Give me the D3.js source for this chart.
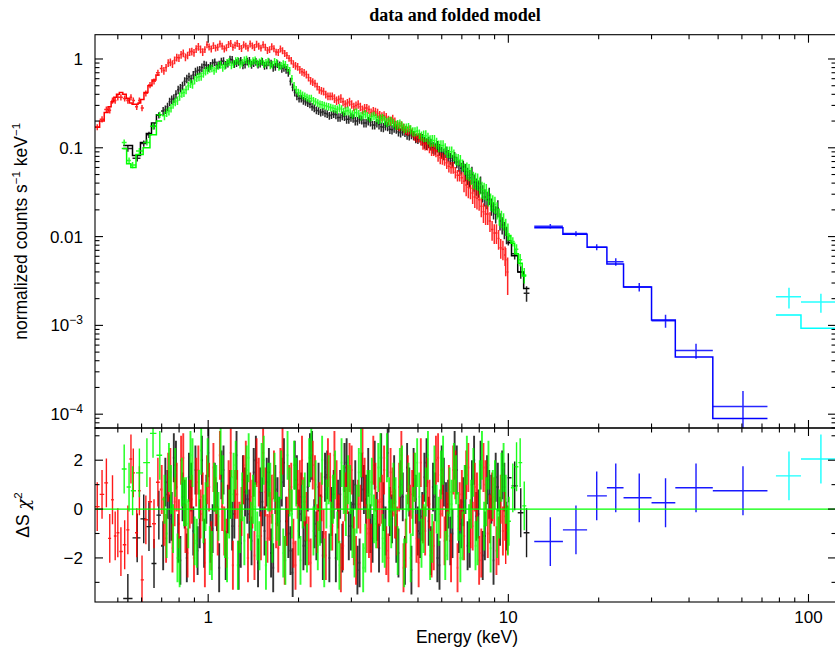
<!DOCTYPE html>
<html><head><meta charset="utf-8">
<script src="https://cdn.jsdelivr.net/npm/d3@7"></script>
<style>body{margin:0;background:#fff}svg{display:block}</style>
</head><body>
<svg id="c" width="835" height="651"></svg>
<script>
// ---------------- DATA ----------------
// Red (low-energy sparse part)
const redLowE=[0.427,0.443,0.458,0.470,0.480,0.490,0.500,0.512,0.527,0.540,0.553,0.563,0.578,0.590,0.602,0.620,0.640,0.660,0.680];
const redLowV=[0.171,0.21,0.27,0.265,0.34,0.34,0.37,0.37,0.36,0.34,0.37,0.34,0.29,0.34,0.28,0.41,0.51,0.56,0.70];
const redLowM=[0.17,0.20,0.25,0.29,0.33,0.37,0.40,0.42,0.40,0.36,0.32,0.31,0.31,0.32,0.35,0.42,0.50,0.58,0.66];
const redLowR=[0.1,0.6,1.07,-1.2,0.38,-1.1,-0.97,-1.74,-1.46,-0.85,2.05,1.48,-0.97,0.75,-2.9,-0.44,0.3,-0.6,1.1];
const redLowErr=0.08;
// Red (dense part): channel centres, values, residuals; second channel in each bin (V2/R2)
const redE=[0.700,0.724,0.748,0.773,0.799,0.826,0.854,0.882,0.912,0.943,
0.975,1.007,1.041,1.076,1.113,1.150,1.189,1.229,1.270,1.313,
1.357,1.403,1.450,1.499,1.550,1.602,1.656,1.712,1.769,1.829,
1.891,1.954,2.020,2.088,2.159,2.231,2.307,2.384,2.465,2.548,
2.634,2.722,2.814,2.909,3.007,3.108,3.213,3.321,3.433,3.549,
3.668,3.792,3.920,4.052,4.188,4.329,4.475,4.626,4.782,4.943,
5.110,5.282,5.460,5.644,5.834,6.031,6.234,6.444,6.661,6.886,
7.118,7.358,7.606,7.862,8.127,8.401,8.684,8.977,9.280,9.593];
const redV=[0.78,0.80,0.92,0.97,1.03,1.16,1.10,1.22,1.30,1.29,
1.28,1.37,1.42,1.36,1.40,1.34,1.50,1.43,1.39,1.45,
1.33,1.41,1.47,1.33,1.36,1.28,1.31,1.19,1.24,1.10,
0.96,0.84,0.76,0.70,0.62,0.55,0.49,0.44,0.40,0.38,
0.36,0.35,0.33,0.32,0.31,0.30,0.29,0.28,0.27,0.26,
0.245,0.225,0.22,0.20,0.196,0.175,0.168,0.155,0.148,0.13,
0.125,0.11,0.102,0.095,0.082,0.076,0.068,0.060,0.053,0.049,
0.042,0.036,0.031,0.027,0.022,0.018,0.015,0.011,0.0095,0.0072];
const redR=[0.8,-1.2,1.5,0.3,-0.6,2.1,-1.8,0.4,1.1,-0.2,
-2.2,0.9,1.7,-0.9,0.1,-1.4,2.3,0.6,-0.7,1.2,
-2.0,0.2,1.9,-1.1,0.7,-0.3,1.4,-1.6,2.4,-0.5,
0.9,-2.3,1.0,0.3,-1.3,1.8,-0.8,0.5,-1.9,1.3,
2.2,-0.4,-1.5,0.8,1.6,-2.1,0.0,1.1,-1.0,2.0,
-0.6,0.4,-1.7,1.5,-0.2,0.9,-2.4,1.2,0.6,-1.2,
1.9,-0.9,0.2,-1.5,2.1,0.7,-0.3,-2.0,1.4,0.1,
-1.1,1.7,-0.7,0.5,-1.8,1.0,-0.4,0.3,-1.3,-0.9];
const redV2=[0.74,0.90,0.88,1.04,1.12,1.05,1.20,1.18,1.38,1.20,
1.45,1.30,1.33,1.48,1.30,1.46,1.36,1.50,1.32,1.40,
1.48,1.35,1.40,1.45,1.25,1.38,1.20,1.30,1.16,1.02,
0.88,0.82,0.72,0.67,0.57,0.53,0.45,0.43,0.38,0.38,
0.34,0.36,0.31,0.33,0.29,0.31,0.27,0.28,0.25,0.255,
0.232,0.23,0.205,0.21,0.18,0.178,0.158,0.16,0.136,0.13,
0.112,0.11,0.095,0.092,0.077,0.074,0.062,0.060,0.049,0.046,
0.038,0.035,0.028,0.026,0.019,0.018,0.012,0.011,0.0075,0.0062];
const redR2=[-0.5,1.3,-1.6,0.9,2.0,-0.8,0.2,-2.0,1.6,0.5,
1.2,-1.5,0.3,2.2,-0.9,1.0,-2.3,0.6,-0.1,1.8,
0.5,-1.9,1.1,2.3,-1.2,0.4,-0.6,1.5,-2.1,0.8,
-1.4,0.6,2.0,-0.3,-2.2,1.2,0.1,-1.0,1.9,-0.7,
1.0,-2.4,0.5,1.7,-1.3,0.2,2.3,-0.8,-1.6,0.9,
0.3,1.6,-2.0,0.7,-0.9,2.2,-1.4,0.0,1.3,-2.2,
-0.4,1.1,-1.8,2.0,-0.2,-1.3,0.8,1.6,-2.4,0.6,
1.4,-0.6,0.9,-2.1,1.7,-1.0,0.5,-1.7,0.4,-0.3];
const redRowErr=[0.10,0.09,0.09,0.10,0.11,0.12,0.15,0.25];
// Red (high-energy end)
const redHighE=[9.80,9.95];
const redHighV=[0.0055,0.0040];
const redHighR=[-1.25,-0.85];
const redHighErr=[0.35,0.45];

// Black (low)
const blackLowE=[0.540,0.580,0.610,0.635,0.660,0.685];
const blackLowV=[0.098,0.076,0.112,0.14,0.175,0.232];
const blackLowM=[0.106,0.082,0.115,0.145,0.19,0.235];
const blackLowR=[-3.66,-1.18,-0.4,-0.72,-2.23,-0.25];
const blackLowErr=0.08;
// Black (dense)
const blackE=[0.708,0.732,0.756,0.781,0.808,0.835,0.863,0.892,0.922,0.953,
0.986,1.018,1.052,1.088,1.125,1.163,1.202,1.243,1.284,1.327,
1.372,1.418,1.466,1.515,1.567,1.620,1.674,1.731,1.788,1.849,
1.912,1.975,2.042,2.111,2.183,2.256,2.332,2.410,2.492,2.576,
2.663,2.752,2.845,2.941,3.040,3.142,3.248,3.358,3.471,3.588,
3.708,3.834,3.963,4.097,4.234,4.377,4.524,4.677,4.835,4.997,
5.166,5.340,5.520,5.706,5.898,6.097,6.303,6.515,6.734,6.962,
7.196,7.439,7.690,7.949,8.216,8.493,8.780,9.076,9.382,9.699];
const blackV=[0.26,0.29,0.35,0.40,0.47,0.56,0.63,0.66,0.74,0.80,
0.85,0.84,0.92,0.87,0.95,0.89,0.98,0.90,0.96,0.87,
0.96,0.90,0.87,0.93,0.85,0.89,0.82,0.85,0.80,0.70,
0.48,0.38,0.36,0.33,0.31,0.28,0.26,0.255,0.24,0.235,
0.235,0.22,0.225,0.21,0.215,0.20,0.205,0.19,0.195,0.18,
0.183,0.17,0.174,0.16,0.163,0.148,0.15,0.137,0.138,0.125,
0.124,0.111,0.110,0.098,0.096,0.085,0.082,0.072,0.069,0.059,
0.054,0.046,0.041,0.035,0.031,0.026,0.022,0.018,0.015,0.012];
const blackR=[-1.5,0.6,-0.3,1.8,-2.1,0.2,1.3,-0.9,-1.7,2.0,
0.4,-1.2,0.9,-2.4,1.6,0.0,-0.7,2.2,-1.4,0.7,
-0.2,1.5,-2.2,0.3,1.1,-1.8,0.8,-0.5,1.9,-1.0,
-2.6,1.2,0.5,-1.3,2.1,-0.6,0.9,-1.9,1.4,-0.1,
-2.0,0.6,1.7,-1.1,0.2,-2.5,1.3,0.4,-0.8,1.8,
-1.6,0.1,2.3,-0.4,-1.2,1.0,-2.1,0.7,1.5,-0.9,
-0.3,1.9,-1.7,0.5,-2.3,1.1,0.2,-1.0,1.6,-0.6,
0.8,-1.4,2.0,-0.2,-1.9,1.2,0.4,1.3,-0.5,0.9];
const blackV2=[0.27,0.33,0.36,0.45,0.50,0.60,0.60,0.72,0.75,0.86,
0.80,0.90,0.85,0.94,0.86,0.99,0.88,0.93,0.85,0.94,
0.86,0.93,0.89,0.84,0.92,0.80,0.88,0.78,0.76,0.56,
0.42,0.36,0.34,0.32,0.29,0.265,0.25,0.245,0.23,0.24,
0.22,0.23,0.21,0.22,0.20,0.21,0.19,0.20,0.18,0.19,
0.172,0.178,0.162,0.168,0.152,0.155,0.14,0.142,0.128,0.13,
0.115,0.116,0.101,0.104,0.089,0.09,0.076,0.078,0.063,0.062,
0.049,0.050,0.037,0.039,0.028,0.029,0.020,0.021,0.0135,0.0105];
const blackR2=[1.1,-0.4,2.1,-1.2,0.5,-2.0,0.9,1.6,-0.6,-1.4,
2.3,-0.8,0.1,1.4,-1.9,0.6,-0.2,-2.3,1.2,0.4,
-1.3,2.0,0.7,-0.9,1.5,-2.4,0.3,1.1,-0.5,-1.7,
1.8,-0.2,-1.5,0.9,2.2,-1.1,-0.4,1.3,-2.0,0.6,
0.2,-1.6,1.9,-0.7,1.0,-2.2,0.8,1.5,-1.2,-0.3,
2.1,-0.9,-0.1,1.2,-1.8,0.5,1.7,-2.5,0.4,-1.0,
1.3,-0.5,0.9,-2.0,1.6,0.1,-1.3,2.2,-0.8,0.3,
-1.5,1.0,-0.3,1.8,-1.1,0.6,-2.1,0.9,1.4,-0.7];
const blackRowErr=[0.11,0.10,0.10,0.10,0.11,0.12,0.15,0.22];
// Black (high)
const blackHighE=[10.0,10.5,11.0,11.5];
const blackHighV=[0.0090,0.0064,0.0040,0.0023];
const blackHighM=[0.0085,0.0061,0.0040,0.0026];
const blackHighR=[1.28,0.95,-0.15,-0.97];
const blackHighErr=[0.12,0.14,0.16,0.2];

// Green (low)
const greenLowE=[0.525,0.545,0.560,0.590,0.625,0.655,0.690];
const greenLowV=[0.115,0.072,0.064,0.092,0.115,0.175,0.235];
const greenLowM=[0.098,0.066,0.060,0.084,0.100,0.140,0.200];
const greenLowR=[1.64,0.9,0.75,1.48,1.9,3.1,2.2];
const greenLowErr=0.08;
// Green (dense)
const greenE=[0.715,0.740,0.764,0.790,0.817,0.844,0.873,0.901,0.932,0.964,
0.996,1.029,1.064,1.100,1.137,1.175,1.215,1.256,1.298,1.342,
1.387,1.434,1.482,1.532,1.584,1.637,1.692,1.750,1.808,1.869,
1.933,1.997,2.064,2.134,2.206,2.280,2.358,2.436,2.519,2.604,
2.692,2.782,2.876,2.973,3.073,3.176,3.284,3.394,3.509,3.627,
3.749,3.875,4.006,4.141,4.280,4.424,4.573,4.728,4.887,5.052,
5.222,5.398,5.580,5.768,5.962,6.164,6.371,6.586,6.808,7.037,
7.275,7.520,7.773,8.035,8.306,8.586,8.875,9.175,9.484,9.804];
const greenV=[0.23,0.26,0.31,0.34,0.41,0.45,0.53,0.58,0.63,0.69,
0.75,0.79,0.78,0.86,0.84,0.93,0.88,0.96,0.91,0.99,
0.90,0.97,0.92,0.88,0.94,0.87,0.91,0.84,0.86,0.74,
0.50,0.42,0.39,0.37,0.36,0.33,0.31,0.30,0.29,0.28,
0.27,0.272,0.26,0.25,0.248,0.24,0.236,0.228,0.225,0.218,
0.212,0.204,0.20,0.19,0.183,0.176,0.168,0.16,0.152,0.143,
0.136,0.128,0.121,0.113,0.106,0.098,0.090,0.083,0.074,0.064,
0.056,0.049,0.043,0.038,0.033,0.028,0.024,0.020,0.016,0.013];
const greenR=[0.4,1.7,-0.8,-2.0,1.1,0.3,2.2,-1.3,0.6,-0.4,
1.9,-1.9,0.8,2.4,-1.0,-0.2,1.3,-2.3,0.5,1.6,
-0.7,0.1,-1.5,2.0,0.9,-1.2,-0.3,1.4,-2.1,0.7,
1.8,-0.9,0.2,-1.6,2.3,1.0,-0.5,-2.2,1.2,0.4,
-1.1,1.9,-0.1,0.8,-1.8,1.5,-2.4,0.6,1.1,-0.6,
2.1,-1.4,0.3,0.9,-1.7,1.6,-0.4,-2.0,1.3,0.5,
-0.8,2.2,-1.2,0.0,1.4,-1.9,0.7,1.7,-0.3,-1.1,
2.0,0.2,-1.5,1.0,-0.7,1.8,0.6,-1.0,1.3,0.4];
const greenV2=[0.25,0.28,0.33,0.38,0.42,0.50,0.52,0.62,0.64,0.73,
0.78,0.74,0.84,0.80,0.91,0.85,0.95,0.87,0.97,0.89,
0.95,0.89,0.95,0.91,0.85,0.93,0.82,0.88,0.80,0.60,
0.45,0.41,0.38,0.36,0.34,0.32,0.305,0.295,0.285,0.275,
0.28,0.255,0.262,0.238,0.25,0.228,0.24,0.218,0.23,0.207,
0.215,0.193,0.2,0.18,0.186,0.166,0.17,0.152,0.155,0.136,
0.137,0.12,0.121,0.105,0.106,0.09,0.09,0.075,0.072,0.058,
0.054,0.044,0.042,0.034,0.032,0.025,0.023,0.017,0.015,0.0115];
const greenR2=[-1.0,0.8,1.5,-2.2,0.3,-0.6,1.9,-1.4,2.4,0.1,
-1.7,0.9,-0.3,1.2,-2.0,0.6,1.8,-0.8,-1.3,2.1,
0.4,-1.1,1.7,-2.3,0.9,1.3,-0.5,-1.8,2.2,-0.2,
1.1,-2.1,0.5,1.9,-0.9,-1.5,2.0,0.2,-0.7,1.4,
-2.3,0.8,1.2,-1.0,0.0,2.3,-1.6,0.6,-0.4,1.7,
-1.2,2.1,-0.6,0.3,1.5,-2.2,0.9,-0.1,1.9,-1.4,
0.7,-1.9,1.6,-0.5,2.0,-1.1,0.2,1.2,-2.0,0.8,
-0.8,1.5,-1.3,2.2,0.3,-1.6,1.0,-0.2,1.7,-0.9];
const greenRowErr=[0.11,0.10,0.10,0.10,0.11,0.12,0.15,0.22];
// Green (high)
const greenHighE=[10.05,10.35,10.65,10.95,11.3];
const greenHighV=[0.0100,0.0088,0.0072,0.0055,0.0037];
const greenHighM=[0.0103,0.0084,0.0064,0.0050,0.0036];
const greenHighR=[-0.5,0.87,1.73,1.9,0.13];
const greenHighErr=[0.10,0.12,0.14,0.16,0.20];

// Blue (hard X-ray)
const blueEdges=[12.2,15.2,18.3,21.3,24.2,30.0,36.0,48.0,73.0];
const blueE=[13.8,16.8,19.7,22.8,27.3,33.4,42.2,60.5];
const blueV=[0.0131,0.0108,0.0076,0.0052,0.0027,0.00113,0.00052,0.000122];
const blueErr=[0.0008,0.0007,0.0006,0.0005,0.0003,0.00019,0.0001,0.00006];
const blueM=[0.0126,0.0106,0.0076,0.0049,0.0027,0.00115,0.00044,0.0000895];
const blueR=[-1.33,-0.85,0.54,0.87,0.46,0.26,0.87,0.75];
// Cyan
const cyanEdges=[77.9,94.4,128];
const cyanE=[86.1,110];
const cyanV=[0.0021,0.00183];
const cyanErr=[0.00055,0.00044];
const cyanM=[0.00131,0.00093];
const cyanR=[1.36,2.05];

// Axis ticks / labels
const xMajor=[1,10,100];
const xMajorLabels=['1','10','100'];
const xMinor=[0.5,0.6,0.7,0.8,0.9,2,3,4,5,6,7,8,9,20,30,40,50,60,70,80,90];
const yTopMajor=[1,0.1,0.01,0.001,0.0001];
const yTopLabels=[['1',''],['0.1',''],['0.01',''],['10','\u22123'],['10','\u22124']];
const yBotMajor=[-2,0,2];
const yBotLabels=['\u22122','0','2'];
const yBotMinor=[-3,-1,1,3];

// ---------------- LAYOUT ----------------
const L=95,R=836,T1=34.7,B1=428,T2=428,B2=602;
const svg=d3.select('#c');
const x=d3.scaleLog().domain([0.4197,123.5]).range([L,R]);
const yT=d3.scaleLog().domain([1.877,6.99e-5]).range([T1,B1]);
const yB=d3.scaleLinear().domain([3.318,-3.804]).range([T2,B2]);
const FONT='"Liberation Sans",Arial,Helvetica,sans-serif';

const defs=svg.append('defs');
defs.append('clipPath').attr('id','ct').append('rect').attr('x',L).attr('y',T1).attr('width',R-L).attr('height',B1-T1);
defs.append('clipPath').attr('id','cb').append('rect').attr('x',L).attr('y',T2).attr('width',R-L).attr('height',B2-T2);
const gT=svg.append('g').attr('clip-path','url(#ct)');
const gB=svg.append('g').attr('clip-path','url(#cb)');

function build(low,dense,rowErr,high){
  const ch=[];
  low.E.forEach((e,i)=>ch.push({e,v:low.V[i],r:low.R[i],err:low.err,m:low.M?low.M[i]:null,seg:0}));
  const n=dense.E.length;
  dense.E.forEach((e,i)=>{
    const e2=i<n-1?Math.sqrt(e*dense.E[i+1]):e*Math.sqrt(e/dense.E[i-1]);
    const er=rowErr[Math.floor(i/10)];
    ch.push({e,v:dense.V[i],r:dense.R[i],err:er,m:null,seg:1});
    ch.push({e:e2,v:dense.V2[i],r:dense.R2[i],err:er,m:null,seg:1});
  });
  high.E.forEach((e,i)=>ch.push({e,v:high.V[i],r:high.R[i],err:high.err[i],m:high.M?high.M[i]:null,seg:2}));
  ch.sort((a,b)=>a.e-b.e);
  const N=ch.length;
  ch.forEach((d,i)=>{
    d.lo=i>0?Math.sqrt(ch[i-1].e*d.e):d.e*d.e/Math.sqrt(d.e*ch[1].e);
    d.hi=i<N-1?Math.sqrt(d.e*ch[i+1].e):d.e*d.e/Math.sqrt(ch[N-2].e*d.e);
    d.elo=d.v*(1-d.err);d.ehi=d.v*(1+d.err);
    d.dense=d.seg===1;
  });
  const models=[0,2].map(s=>ch.filter(d=>d.seg===s&&d.m!=null)).filter(a=>a.length);
  return {pts:ch,models};
}

const series=[
 {color:'#000000',...build({E:blackLowE,V:blackLowV,R:blackLowR,M:blackLowM,err:blackLowErr},{E:blackE,V:blackV,R:blackR,V2:blackV2,R2:blackR2},blackRowErr,{E:blackHighE,V:blackHighV,R:blackHighR,M:blackHighM,err:blackHighErr})},
 {color:'#ff0000',...build({E:redLowE,V:redLowV,R:redLowR,M:redLowM,err:redLowErr},{E:redE,V:redV,R:redR,V2:redV2,R2:redR2},redRowErr,{E:redHighE,V:redHighV,R:redHighR,err:redHighErr})},
 {color:'#00ff00',...build({E:greenLowE,V:greenLowV,R:greenLowR,M:greenLowM,err:greenLowErr},{E:greenE,V:greenV,R:greenR,V2:greenV2,R2:greenR2},greenRowErr,{E:greenHighE,V:greenHighV,R:greenHighR,M:greenHighM,err:greenHighErr})},
 {color:'#0000ff',pts:blueE.map((e,i)=>({e,v:blueV[i],r:blueR[i],lo:blueEdges[i],hi:blueEdges[i+1],elo:blueV[i]-blueErr[i],ehi:blueV[i]+blueErr[i]})),
   models:[blueM.map((m,i)=>({m,lo:blueEdges[i],hi:blueEdges[i+1]}))]},
 {color:'#00ffff',pts:cyanE.map((e,i)=>({e,v:cyanV[i],r:cyanR[i],lo:cyanEdges[i],hi:cyanEdges[i+1],elo:cyanV[i]-cyanErr[i],ehi:cyanV[i]+cyanErr[i]})),
   models:[cyanM.map((m,i)=>({m,lo:cyanEdges[i],hi:cyanEdges[i+1]}))]}
];

series.forEach(s=>{
  s.models.forEach(seg=>{
    const p=d3.path();
    seg.forEach((d,i)=>{
      if(i===0)p.moveTo(x(d.lo),yT(d.m)); else p.lineTo(x(d.lo),yT(d.m));
      p.lineTo(x(d.hi),yT(d.m));
    });
    gT.append('path').attr('d',p.toString()).attr('fill','none').attr('stroke',s.color).attr('stroke-width',1.5);
  });
  const pt=d3.path();
  s.pts.forEach(d=>{
    pt.moveTo(x(d.lo),yT(d.v));pt.lineTo(x(d.hi),yT(d.v));
    pt.moveTo(x(d.e),yT(d.ehi));pt.lineTo(x(d.e),yT(Math.max(d.elo,1e-6)));
  });
  gT.append('path').attr('d',pt.toString()).attr('fill','none').attr('stroke',s.color).attr('stroke-width',1.5).attr('stroke-opacity',0.85);
  // residuals: dense channels thicker
  [true,false].forEach(dn=>{
    const pb=d3.path();
    s.pts.filter(d=>!!d.dense===dn).forEach(d=>{
      pb.moveTo(x(d.lo),yB(d.r));pb.lineTo(x(d.hi),yB(d.r));
      pb.moveTo(x(d.e),yB(d.r+1));pb.lineTo(x(d.e),yB(d.r-1));
    });
    gB.append('path').attr('d',pb.toString()).attr('fill','none').attr('stroke',s.color)
      .attr('stroke-width',dn?1.9:1.4).attr('stroke-opacity',dn?0.8:0.9);
  });
});
// zero line (drawn on top of residuals)
gB.append('line').attr('x1',L).attr('x2',R).attr('y1',yB(0)).attr('y2',yB(0))
  .attr('stroke','#00ff00').attr('stroke-width',1.2);

// ---------------- AXES ----------------
const gA=svg.append('g').attr('stroke','#000').attr('stroke-width',1.1).attr('fill','none');
gA.append('rect').attr('x',L).attr('y',T1).attr('width',R-L).attr('height',B1-T1);
gA.append('rect').attr('x',L).attr('y',T2).attr('width',R-L).attr('height',B2-T2);
function ln(x1,y1,x2,y2){gA.append('line').attr('x1',x1).attr('y1',y1).attr('x2',x2).attr('y2',y2);}
const MJ=8,MN=4.5;
xMajor.forEach(v=>{const X=x(v);[[T1,1],[B1,-1],[T2,1],[B2,-1]].forEach(([Y,s])=>ln(X,Y,X,Y+s*MJ));});
xMinor.forEach(v=>{const X=x(v);[[T1,1],[B1,-1],[T2,1],[B2,-1]].forEach(([Y,s])=>ln(X,Y,X,Y+s*MN));});
yTopMajor.forEach(v=>{const Y=yT(v);ln(L,Y,L+MJ,Y);ln(R,Y,R-MJ,Y);});
const [ymax,ymin]=yT.domain();
for(let dec=-5;dec<=0;dec++){for(let k=2;k<=9;k++){const v=k*Math.pow(10,dec);if(v>ymin&&v<ymax){const Y=yT(v);ln(L,Y,L+MN,Y);ln(R,Y,R-MN,Y);}}}
yBotMajor.forEach(v=>{const Y=yB(v);ln(L,Y,L+MJ,Y);ln(R,Y,R-MJ,Y);});
yBotMinor.forEach(v=>{const Y=yB(v);ln(L,Y,L+MN,Y);ln(R,Y,R-MN,Y);});

const gL=svg.append('g').attr('font-family',FONT).attr('font-size',17).attr('fill','#000');
yTopMajor.forEach((v,i)=>{
  const t=gL.append('text').attr('x',83).attr('y',yT(v)+6).attr('text-anchor','end');
  t.append('tspan').text(yTopLabels[i][0]);
  if(yTopLabels[i][1]) t.append('tspan').attr('font-size',12).attr('dy',-7).text(yTopLabels[i][1]);
});
yBotMajor.forEach((v,i)=>{
  gL.append('text').attr('x',83).attr('y',yB(v)+6).attr('text-anchor','end').text(yBotLabels[i]);
});
xMajor.forEach((v,i)=>{
  gL.append('text').attr('x',x(v)).attr('y',622.5).attr('text-anchor','middle').text(xMajorLabels[i]);
});

svg.append('text').attr('x',455).attr('y',21).attr('text-anchor','middle')
  .attr('font-family','"Liberation Serif","Times New Roman",serif').attr('font-weight','bold').attr('font-size',18)
  .text('data and folded model');
svg.append('text').attr('x',467).attr('y',642.5).attr('text-anchor','middle')
  .attr('font-family',FONT).attr('font-size',17.5).text('Energy (keV)');
const yl=svg.append('text').attr('transform',`translate(27,${(T1+B1)/2}) rotate(-90)`).attr('text-anchor','middle')
  .attr('font-family',FONT).attr('font-size',17.5);
yl.append('tspan').text('normalized counts s');
yl.append('tspan').attr('font-size',11.5).attr('dy',-7).text('\u22121');
yl.append('tspan').attr('dy',7).text(' keV');
yl.append('tspan').attr('font-size',11.5).attr('dy',-7).text('\u22121');
const rl=svg.append('text').attr('transform',`translate(29,${(T2+B2)/2}) rotate(-90)`).attr('text-anchor','middle')
  .attr('font-family',FONT).attr('font-size',17.5);
rl.append('tspan').text('\u0394S ');
rl.append('tspan').attr('font-style','italic').attr('font-family','"DejaVu Serif",serif').text('\u03c7');
rl.append('tspan').attr('font-size',11.5).attr('dy',-7).text('2');
</script>
</body></html>
